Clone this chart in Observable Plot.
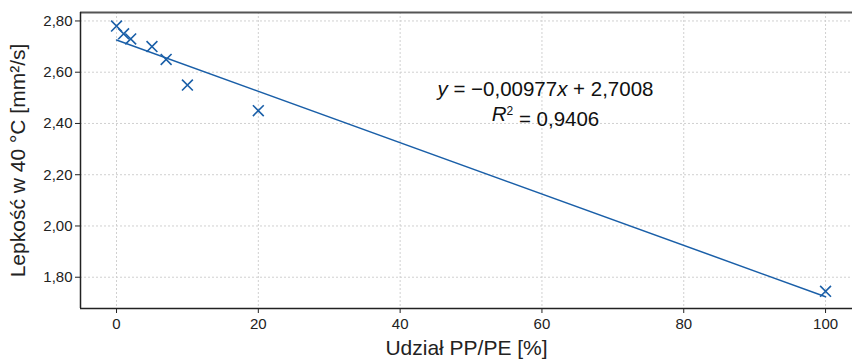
<!DOCTYPE html>
<html>
<head>
<meta charset="utf-8">
<script src="https://cdn.jsdelivr.net/npm/d3@7"></script>
<script src="https://cdn.jsdelivr.net/npm/@observablehq/plot@0.6"></script>
<style>
  html, body { margin: 0; padding: 0; background: #fff; }
  svg { font-family: "Liberation Sans", Arial, sans-serif; }
</style>
</head>
<body>
<div id="chart"></div>
<script>
// Data
const shareX = [0, 1, 2, 5, 7, 10, 20, 100];            // Udział PP/PE [%]
const viscosityY = [2.78, 2.75, 2.73, 2.70, 2.65, 2.55, 2.45, 1.745]; // mm²/s
const xTicks = [0, 20, 40, 60, 80, 100];
const yTicks = [1.8, 2.0, 2.2, 2.4, 2.6, 2.8];
const eqLines = ["y = −0,00977x + 2,7008", "R2 = 0,9406"];
const eqX = [60.5, 60.5];
const eqY = [2.506, 2.408];

const data = shareX.map((x, i) => ({x, y: viscosityY[i]}));
const eq = eqLines.map((t, i) => ({t, x: eqX[i], y: eqY[i]}));

const blue = "#1a5fa8";
const fmt = d => d.toFixed(2).replace(".", ",");

const xDom = [-5.08, 103.8];
const yDom = [1.678, 2.833];

const svg = Plot.plot({
  width: 852,
  height: 360,
  marginLeft: 80,
  marginRight: 0,
  marginTop: 12,
  marginBottom: 52,
  style: {fontFamily: "'Liberation Sans', Arial, sans-serif", fontSize: "15px", color: "#222", background: "#fff"},
  x: {domain: xDom, ticks: xTicks, tickSize: 5, tickPadding: 5, label: null},
  y: {domain: yDom, ticks: yTicks, tickSize: 5, tickPadding: 3, tickFormat: fmt, label: null},
  marks: [
    Plot.gridX(xTicks, {stroke: "#d0d0d0", strokeOpacity: 1, strokeDasharray: "2,2"}),
    Plot.gridY(yTicks, {stroke: "#d0d0d0", strokeOpacity: 1, strokeDasharray: "2,2"}),
    Plot.ruleY([yDom[1]], {stroke: "#555", strokeWidth: 2}),
    Plot.ruleY([yDom[0]], {stroke: "#222", strokeWidth: 1.5}),
    Plot.ruleX([xDom[0]], {stroke: "#222", strokeWidth: 1.5}),
    Plot.linearRegressionY(data, {x: "x", y: "y", stroke: blue, strokeWidth: 1.5, ci: 0}),
    Plot.dot(data, {x: "x", y: "y", symbol: "times", r: 5, stroke: blue, strokeWidth: 1.6}),
    Plot.text(eq, {x: "x", y: "y", text: "t", fontSize: 20.5, fill: "#111", textAnchor: "middle", lineAnchor: "bottom"}),
    Plot.axisX(xTicks, {tickSize: 5, tickPadding: 5, fontSize: 15, stroke: "#222"}),
    Plot.axisY(yTicks, {tickSize: 5, tickPadding: 3, fontSize: 15, tickFormat: fmt, stroke: "#222"}),
    Plot.text(["Udział PP/PE [%]"], {frameAnchor: "bottom", dy: 46, fontSize: 21, fill: "#222", lineAnchor: "bottom"}),
    Plot.text(["Lepkość w 40 °C [mm²/s]"], {frameAnchor: "left", dx: -70, rotate: -90, fontSize: 21, fill: "#222", textAnchor: "middle", lineAnchor: "top"})
  ]
});

// Rich formatting for the regression equation (italic variables, superscript)
d3.select(svg).selectAll("text").each(function() {
  const el = d3.select(this);
  const t = this.textContent;
  if (t === eqLines[0]) {
    el.text(null);
    el.append("tspan").attr("font-style", "italic").text("y");
    el.append("tspan").text(" = −0,00977");
    el.append("tspan").attr("font-style", "italic").text("x");
    el.append("tspan").text(" + 2,7008");
  } else if (t === eqLines[1]) {
    el.text(null);
    el.append("tspan").attr("font-style", "italic").text("R");
    el.append("tspan").attr("font-size", "12px").attr("dy", "-0.5em").text("2");
    el.append("tspan").attr("dy", "0.5em").text(" = 0,9406");
  }
});

document.getElementById("chart").appendChild(svg);
</script>
</body>
</html>
